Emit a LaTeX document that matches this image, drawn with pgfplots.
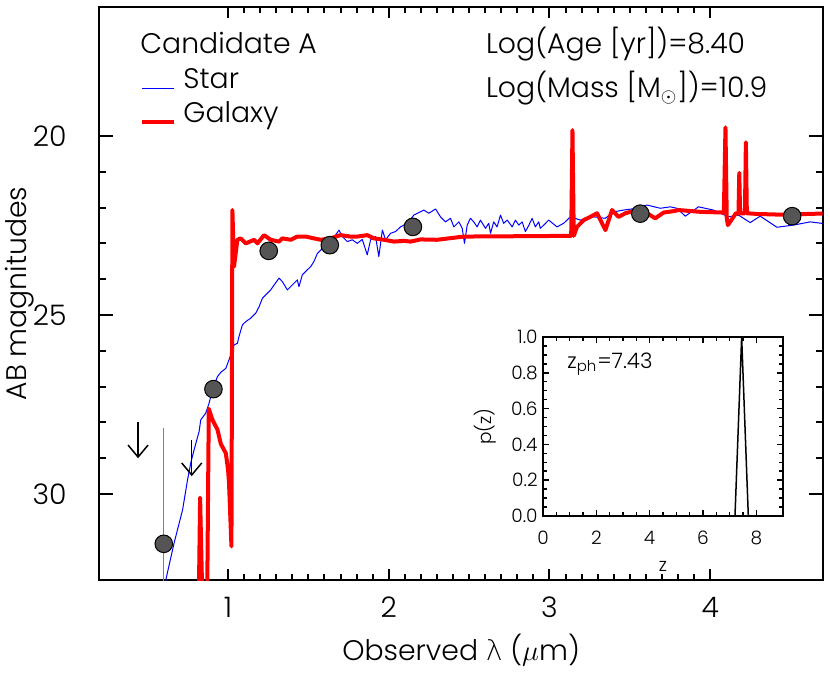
\documentclass[border=0pt]{standalone}
\usepackage{pgfplots}
\pgfplotsset{compat=1.18}
\usepackage{fontspec}
\IfFontExistsTF{Poppins Light}{\setmainfont{Poppins Light}}{\setmainfont{Poppins}}
\IfFontExistsTF{DejaVu Sans ExtraLight}{\newfontfamily\dejavu{DejaVu Sans ExtraLight}}{\newfontfamily\dejavu{DejaVu Sans}}
\usetikzlibrary{arrows.meta}
\definecolor{ptgray}{RGB}{85,85,85}
\definecolor{ebgray}{RGB}{128,128,128}

\begin{document}
\fontsize{14.2}{17}\selectfont
\begin{tikzpicture}
\begin{axis}[
  name=main,
  at={(0,0)}, anchor=south west,
  scale only axis, width=361.6bp, height=286.5bp,
  xmin=0.2, xmax=4.7, ymin=16.4, ymax=32.4, y dir=reverse,
  xtick={1,2,3,4}, ytick={20,25,30},
  minor x tick num=9, minor y tick num=4,
  tick align=inside,
  axis line style={line width=1bp},
  tick style={black, line width=1bp},
  major tick length=7bp, minor tick length=3.5bp,
  major x tick style={/pgfplots/major tick length=5.3bp},
  minor x tick style={/pgfplots/minor tick length=2.8bp},
  /pgf/number format/assume math mode=true,
  xticklabel style={anchor=center, inner sep=0pt, yshift=-13.5bp},
  yticklabel style={anchor=east, inner sep=0pt, xshift=-16.25bp},
  xlabel={Observed {\dejavu λ} ($\mu$m)},
  ylabel={AB magnitudes},
  xlabel style={at={(axis description cs:0.5,-0.122)}, anchor=center},
  ylabel style={at={(axis description cs:-0.11,0.5)}, anchor=center},
  legend style={at={(axis description cs:0.056,0.894)}, anchor=north west,
    draw=none, fill=none, inner sep=0pt, row sep=4.5bp,
    nodes={inner sep=0pt, anchor=base west},
    /tikz/every odd column/.style={column sep=3.5bp}},
  legend cell align=left,
  legend image code/.code={\draw[#1] (0bp,0bp) -- (16bp,0bp);},
]
% Star template
\addplot[blue, line width=0.5bp, line join=round] coordinates {
(0.605,32.7) (0.613,32.39) (0.664,31.37) (0.717,30.44) (0.748,29.6) (0.768,29.13)
(0.789,28.76) (0.820,28.25) (0.830,27.93) (0.861,27.74) (0.882,27.46) (0.903,27.09)
(0.934,26.72) (0.955,26.6) (0.986,26.49) (1.006,26.25) (1.037,25.84) (1.058,25.79)
(1.068,25.6) (1.089,25.28) (1.099,25.23) (1.121,25.15) (1.141,25.09) (1.172,24.95)
(1.193,24.77) (1.214,24.53) (1.265,24.3) (1.317,23.97) (1.338,24.07) (1.369,24.3)
(1.400,24.16) (1.431,24.02) (1.441,24.21) (1.462,23.88) (1.493,23.74) (1.514,23.65)
(1.534,23.51) (1.556,23.28) (1.576,23.19) (1.62,23.0) (1.669,22.77) (1.690,22.63)
(1.711,22.81) (1.742,22.95) (1.773,22.9) (1.804,23.0) (1.835,22.89) (1.866,23.32)
(1.887,22.9) (1.918,22.81) (1.938,23.37) (1.960,22.63) (1.980,22.9) (2.011,22.72)
(2.042,22.67) (2.073,22.54) (2.115,22.44) (2.156,22.21) (2.218,22.07) (2.249,22.16)
(2.291,22.04) (2.322,22.26) (2.353,22.4) (2.384,22.3) (2.405,22.54) (2.436,22.4)
(2.457,22.58) (2.471,23.0) (2.488,22.49) (2.508,22.3) (2.529,22.4) (2.550,22.54)
(2.570,22.35) (2.602,22.58) (2.622,22.44) (2.633,22.72) (2.653,22.4) (2.674,22.54)
(2.695,22.21) (2.715,22.44) (2.737,22.35) (2.768,22.54) (2.788,22.35) (2.809,22.49)
(2.830,22.4) (2.850,22.67) (2.871,22.5) (2.892,22.3) (2.912,22.54) (2.933,22.4)
(2.943,22.58) (2.964,22.49) (2.995,22.35) (3.047,22.54) (3.088,22.44) (3.130,22.26)
(3.192,22.35) (3.275,22.26) (3.347,22.3) (3.399,22.12) (3.461,22.07) (3.544,22.02)
(3.607,21.93) (3.689,22.02) (3.751,21.98) (3.793,22.02) (3.845,22.24) (3.927,21.98)
(4.020,22.07) (4.114,22.26) (4.176,22.21) (4.249,22.42) (4.311,22.24) (4.415,22.55)
(4.518,22.49) (4.622,22.4) (4.694,22.44) (4.75,22.45)
};
\addlegendentry{Star}
% Galaxy template
\addplot[red, line width=2bp, line join=round] coordinates {
(0.815,34) (0.826,30.1) (0.845,34) (0.868,34) (0.88,27.62) (0.903,27.93) (0.934,28.2)
(0.955,28.6) (0.986,28.86) (1.0,29.32) (1.006,29.7) (1.021,31.46) (1.027,22.07)
(1.037,23.65) (1.058,22.9) (1.079,22.86) (1.110,23.0) (1.162,22.9) (1.183,23.0)
(1.224,22.77) (1.265,22.9) (1.317,22.95) (1.338,22.86) (1.390,22.9) (1.431,22.81)
(1.483,22.81) (1.534,22.86) (1.576,22.9) (1.638,22.86) (1.700,22.77) (1.762,22.81)
(1.804,22.81) (1.866,22.77) (1.907,22.86) (1.970,22.9) (2.032,22.95) (2.094,22.93)
(2.135,22.95) (2.198,22.89) (2.30,22.9) (2.467,22.81) (2.82,22.80) (3.135,22.79)
(3.143,19.84) (3.151,22.79) (3.171,22.54) (3.213,22.35) (3.254,22.26) (3.296,22.16)
(3.348,22.63) (3.389,22.07) (3.430,22.26) (3.472,22.16) (3.52,22.1) (3.565,22.12)
(3.607,22.16) (3.658,22.3) (3.710,22.14) (3.772,22.1) (3.803,22.07) (3.94,22.12)
(4.085,22.14) (4.095,19.76) (4.103,22.3) (4.11,22.49) (4.16,22.16) (4.176,22.16)
(4.181,21.03) (4.186,22.16) (4.216,22.16) (4.222,20.18) (4.228,22.16) (4.3,22.18)
(4.45,22.2) (4.6,22.18) (4.75,22.16)
};
\addlegendentry{Galaxy}
% error bar of the first detection
\addplot[ebgray, line width=0.5bp, forget plot] coordinates {(0.6,28.16) (0.6,34.6)};
% upper limits
\addplot[black, line width=0.75bp, forget plot, quiver={u=0, v=1},
  -{Straight Barb[length=6bp, width=10bp]}] coordinates {(0.44,28.0) (0.774,28.5)};
% photometry
\addplot[only marks, mark=*, mark size=4.4bp, forget plot,
  mark options={fill=ptgray, draw=black, line width=0.5bp}] coordinates {
(0.600,31.39) (0.909,27.07) (1.253,23.21) (1.633,23.05) (2.150,22.54) (3.565,22.17) (4.510,22.24)
};
\node[anchor=base west, inner sep=0pt] at (axis description cs:0.056,0.9197) {Candidate A};
\node[anchor=base west, inner sep=0pt] at (axis description cs:0.534,0.9197) {Log(Age [yr])=8.40};
\node[anchor=base west, inner sep=0pt] at (axis description cs:0.534,0.8417) {Log(Mass [M$_\odot$])=10.9};
\end{axis}

\begin{axis}[
  at={(221.75bp,32bp)}, anchor=south west,
  scale only axis, width=120bp, height=89.5bp,
  xmin=0, xmax=9, ymin=0, ymax=1,
  xtick={0,2,4,6,8}, ytick={0,0.2,0.4,0.6,0.8,1.0},
  yticklabels={0.0,0.2,0.4,0.6,0.8,1.0},
  minor x tick num=3, minor y tick num=3,
  tick align=inside,
  axis background/.style={fill=white},
  axis line style={line width=1bp},
  tick style={black, line width=0.75bp},
  major tick length=3bp, minor tick length=1.8bp,
  /pgf/number format/assume math mode=true,
  tick label style={font=\fontsize{9.3}{11}\selectfont},
  label style={font=\fontsize{9.3}{11}\selectfont},
  xticklabel style={anchor=center, inner sep=0pt, yshift=-11bp},
  yticklabel style={anchor=east, inner sep=0pt, xshift=-2.5bp},
  xlabel={z}, ylabel={p(z)},
  xlabel style={at={(axis description cs:0.5,-0.279)}, anchor=center},
  ylabel style={at={(axis description cs:-0.242,0.5)}, anchor=center},
]
\addplot[black, line width=0.75bp] coordinates {(7.2,0) (7.45,1) (7.7,0)};
\node[anchor=west, inner sep=0pt, font=\fontsize{10.7}{12}\selectfont] at (axis description cs:0.1,0.849) {z\textsubscript{ph}=7.43};
\end{axis}
\pgfresetboundingbox
\path[use as bounding box] (-49.75bp,-47bp) rectangle (365.25bp,290bp);
\end{tikzpicture}
\end{document}
